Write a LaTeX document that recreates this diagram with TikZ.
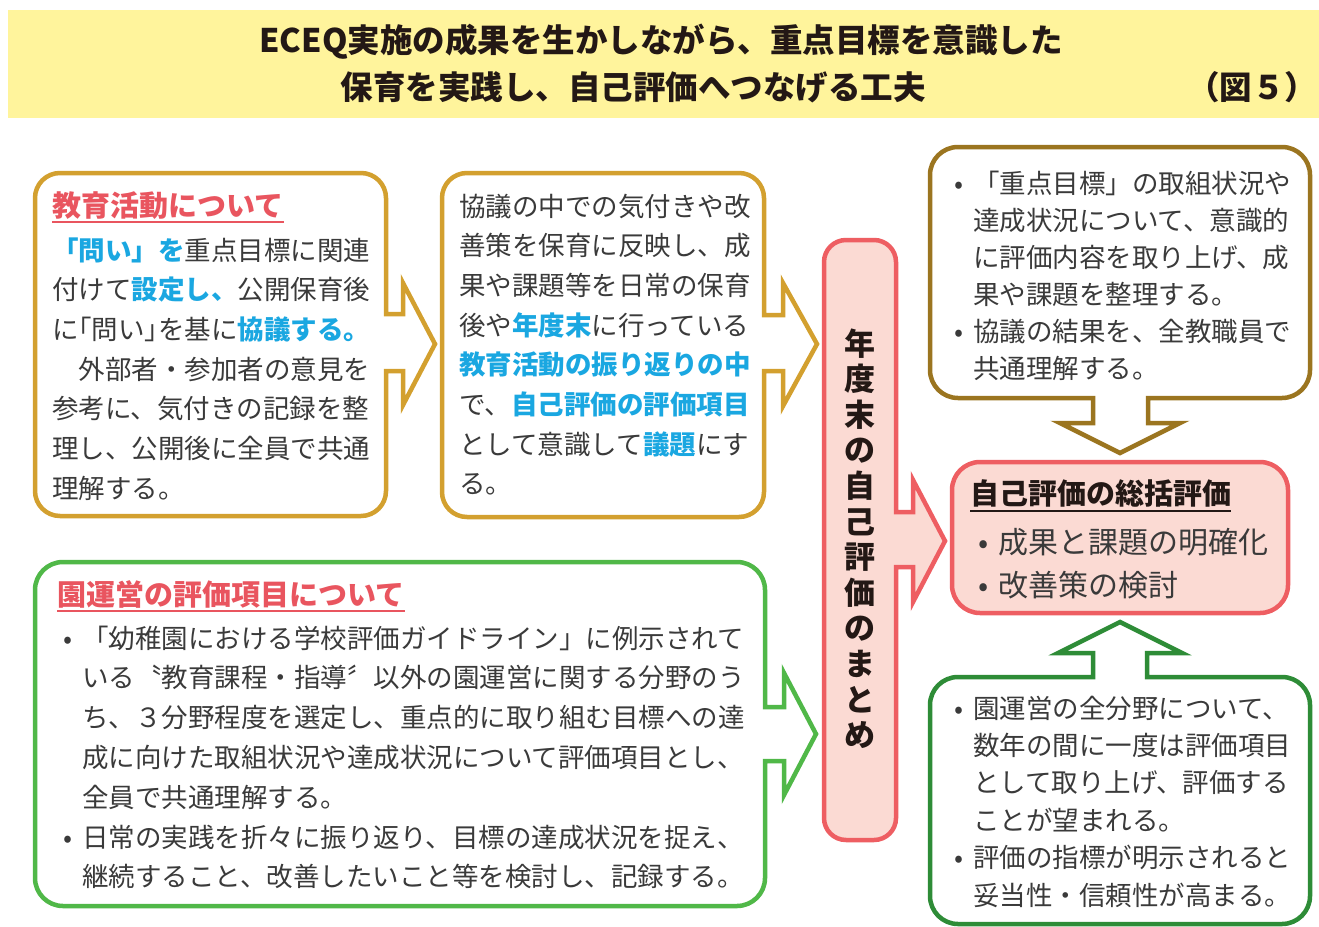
\documentclass[tikz,border=0pt]{standalone}
\usepackage{fontspec}
\newfontfamily\jp{Noto Sans CJK JP}
\newfontfamily\jph[RawFeature=+halt]{Noto Sans CJK JP}
\definecolor{band}{HTML}{FFF49C}
\definecolor{gold}{HTML}{D3A02F}
\definecolor{brown}{HTML}{9B7520}
\definecolor{pinkline}{HTML}{EE5E62}
\definecolor{pinkfill}{HTML}{FBDAD3}
\definecolor{titlered}{HTML}{E9555F}
\definecolor{hlblue}{HTML}{1AA7E1}
\definecolor{lgreen}{HTML}{50B848}
\definecolor{dgreen}{HTML}{2E8C37}
\definecolor{txt}{HTML}{3A3A3A}
\definecolor{dark}{HTML}{231815}
\newcommand\hl[1]{{\bfseries\color{hlblue}#1}}
\newcommand\hb[1]{{\jph #1}}
\begin{document}
\begin{tikzpicture}[x=1pt,y=-1pt,
  frame/.style={line width=4.5pt, line join=miter, fill=white},
  body/.style={anchor=base west, inner sep=0pt, text=txt, font=\jp\fontsize{26.5}{30}\selectfont},
  bul/.style={anchor=base, inner sep=0pt, text=txt, font=\jp\fontsize{26.5}{30}\selectfont},
  head/.style={anchor=base west, inner sep=0pt, text=titlered, font=\jp\bfseries\fontsize{29}{33}\selectfont},
  ul/.style={line width=2pt},
  ttl/.style={anchor=base, inner sep=0pt, text=dark, font=\jp\bfseries\fontsize{32.5}{36}\selectfont},
  pillartext/.style={anchor=base, inner sep=0pt, text=dark, font=\jp\bfseries\fontsize{31}{35}\selectfont}]
\useasboundingbox (0,0) rectangle (1319,926);
\fill[white] (0,0) rectangle (1319,926);

% title band
\fill[band] (8,10) rectangle (1319,118);
\node[ttl] (t1) at (661,52) {ECEQ実施の成果を生かしながら、重点目標を意識した};
\node[ttl] (t2) at (633,99) {保育を実践し、自己評価へつなげる工夫};
\node[ttl, anchor=base west] (t3) at (1187,99) {（図５）};

% box 1 (gold, arrow right)
\draw[frame, draw=gold] (60,173) -- (361,173) arc[start angle=90,end angle=0,radius=25pt]
  -- (386,314) -- (403,314) -- (403,283) -- (435,344) -- (403,405) -- (403,371) -- (386,371)
  -- (386,491) arc[start angle=0,end angle=-90,radius=25pt]
  -- (60,516) arc[start angle=270,end angle=180,radius=25pt]
  -- (35,198) arc[start angle=180,end angle=90,radius=25pt] -- cycle;

% box 2 (gold, arrow right)
\draw[frame, draw=gold] (467,173) -- (739,173) arc[start angle=90,end angle=0,radius=25pt]
  -- (764,315) -- (783,315) -- (783,283) -- (817,344) -- (783,406) -- (783,371) -- (764,371)
  -- (764,492) arc[start angle=0,end angle=-90,radius=25pt]
  -- (467,517) arc[start angle=270,end angle=180,radius=25pt]
  -- (442,198) arc[start angle=180,end angle=90,radius=25pt] -- cycle;

% green box (arrow right)
\draw[frame, draw=lgreen] (63,562) -- (737,562) arc[start angle=90,end angle=0,radius=28pt]
  -- (765,707) -- (784,707) -- (784,673) -- (816,734) -- (784,795) -- (784,761) -- (765,761)
  -- (765,878) arc[start angle=0,end angle=-90,radius=28pt]
  -- (63,906) arc[start angle=270,end angle=180,radius=28pt]
  -- (35,590) arc[start angle=180,end angle=90,radius=28pt] -- cycle;

% pillar (arrow right)
\draw[frame, draw=pinkline, fill=pinkfill] (846,240) -- (874,240) arc[start angle=90,end angle=0,radius=22pt]
  -- (896,512) -- (913,512) -- (913,480) -- (945,541) -- (913,602) -- (913,567) -- (896,567)
  -- (896,818) arc[start angle=0,end angle=-90,radius=22pt]
  -- (846,840) arc[start angle=270,end angle=180,radius=22pt]
  -- (824,262) arc[start angle=180,end angle=90,radius=22pt] -- cycle;

% top right box (brown, arrow down)
\draw[frame, draw=brown] (958,147) -- (1282,147) arc[start angle=90,end angle=0,radius=28pt]
  -- (1310,370) arc[start angle=0,end angle=-90,radius=28pt]
  -- (1148,398) -- (1148,423) -- (1180,423) -- (1120,453) -- (1060,423) -- (1093,423) -- (1093,398)
  -- (958,398) arc[start angle=270,end angle=180,radius=28pt]
  -- (930,175) arc[start angle=180,end angle=90,radius=28pt] -- cycle;

% summary box (pink)
\draw[line width=4.5pt, draw=pinkline, fill=pinkfill, rounded corners=28pt] (952,462) rectangle (1288,613);

% bottom right box (dark green, arrow up)
\draw[frame, draw=dgreen] (958,677) -- (1093,677) -- (1093,653) -- (1058,653) -- (1120,622)
  -- (1182,653) -- (1147,653) -- (1147,677)
  -- (1282,677) arc[start angle=90,end angle=0,radius=28pt]
  -- (1310,896) arc[start angle=0,end angle=-90,radius=28pt]
  -- (958,924) arc[start angle=270,end angle=180,radius=28pt]
  -- (930,705) arc[start angle=180,end angle=90,radius=28pt] -- cycle;

% box 1 text
\node[head] (h1) at (52,216) {教育活動について};
\draw[ul, titlered] ([yshift=-6pt]h1.base west) -- ([yshift=-6pt]h1.base east);
\foreach \t [count=\i from 0] in {
  {\hl{「問い」を}重点目標に関連},
  {付けて\hl{設定し、}公開保育後},
  {に\hb{「}問い\hb{」}を基に\hl{協議する。}},
  {　外部者・参加者の意見を},
  {参考に、気付きの記録を整},
  {理し、公開後に全員で共通},
  {理解する。}}
  \node[body] (a\i) at (52,{260+\i*39.7}) {\t};

% box 2 text
\foreach \t [count=\i from 0] in {
  {協議の中での気付きや改},
  {善策を保育に反映し、成},
  {果や課題等を日常の保育},
  {後や\hl{年度末}に行っている},
  {\hl{教育活動の振り返りの中}},
  {で、\hl{自己評価の評価項目}},
  {として意識して\hl{議題}にす},
  {る。}}
  \node[body] (b\i) at (459,{216+\i*39.7}) {\t};

% green box text
\node[head] (h3) at (57,605) {園運営の評価項目について};
\draw[ul, titlered] ([yshift=-6pt]h3.base west) -- ([yshift=-6pt]h3.base east);
\foreach \t [count=\i from 0] in {
  {「幼稚園における学校評価ガイドライン」に例示されて},
  {いる〝教育課程・指導〞以外の園運営に関する分野のう},
  {ち、３分野程度を選定し、重点的に取り組む目標への達},
  {成に向けた取組状況や達成状況について評価項目とし、},
  {全員で共通理解する。},
  {日常の実践を折々に振り返り、目標の達成状況を捉え、},
  {継続すること、改善したいこと等を検討し、記録する。}}
  \node[body] (c\i) at (82,{648+\i*39.8}) {\t};
\node[bul] (cb1) at (68,648) {•};
\node[bul] (cb2) at (68,{648+5*39.8}) {•};

% pillar text
\foreach \c [count=\i from 0] in {年,度,末,の,自,己,評,価,の,ま,と,め}
  \node[pillartext] (p\i) at (860,{355+\i*35.6}) {\c};

% top right text
\foreach \t [count=\i from 0] in {
  {「重点目標」の取組状況や},
  {達成状況について、意識的},
  {に評価内容を取り上げ、成},
  {果や課題を整理する。},
  {協議の結果を、全教職員で},
  {共通理解する。}}
  \node[body] (d\i) at (973,{193+\i*37}) {\t};
\node[bul] (db1) at (959,193) {•};
\node[bul] (db2) at (959,{193+4*37}) {•};

% summary text
\node[head, text=dark] (h5) at (970,504) {自己評価の総括評価};
\draw[ul, dark] ([yshift=-7pt]h5.base west) -- ([yshift=-7pt]h5.base east);
\node[body, font=\jp\fontsize{30}{34}\selectfont] (s1) at (998,553) {成果と課題の明確化};
\node[body, font=\jp\fontsize{30}{34}\selectfont] (s2) at (998,596) {改善策の検討};
\node[bul, font=\jp\fontsize{30}{34}\selectfont] (sb1) at (984,553) {•};
\node[bul, font=\jp\fontsize{30}{34}\selectfont] (sb2) at (984,596) {•};

% bottom right text
\foreach \t [count=\i from 0] in {
  {園運営の全分野について、},
  {数年の間に一度は評価項目},
  {として取り上げ、評価する},
  {ことが望まれる。},
  {評価の指標が明示されると},
  {妥当性・信頼性が高まる。}}
  \node[body] (e\i) at (973,{718+\i*37.4}) {\t};
\node[bul] (eb1) at (959,718) {•};
\node[bul] (eb2) at (959,{718+4*37.4}) {•};
\end{tikzpicture}
\end{document}
